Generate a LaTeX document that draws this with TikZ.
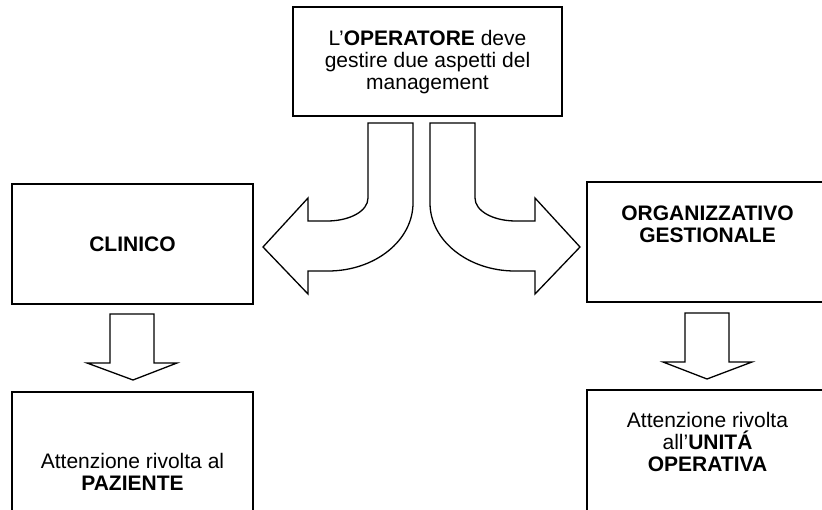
\documentclass[tikz,border=0pt]{standalone}
\usepackage{fontspec}
\setmainfont{Liberation Sans}
\begin{document}
\begin{tikzpicture}[x=1pt, y=-1pt,
  box/.style={draw, line width=1.7pt, inner sep=0pt},
  txt/.style={align=center, inner sep=0pt, font=\fontsize{21}{22}\selectfont},
  blockarrow/.style={draw, fill=white, line width=1.3pt, line join=miter}]
\useasboundingbox (0,0) rectangle (822,510);
\clip (0,0) rectangle (822,510);

% boxes
\node[box, minimum width=269pt, minimum height=109pt] (oper) at (427.5,61.5) {};
\node[txt] (opertxt) at (427.5,62.5)
  {L’\textbf{OPERATORE} deve\\gestire due aspetti del\\management};
\node[box, txt, minimum width=241pt, minimum height=120pt] (clin) at (132.5,244)
  {\textbf{CLINICO}};
\node[box, minimum width=241pt, minimum height=120pt] (org) at (707.5,242) {};
\node[txt] (orgtxt) at (707.5,224) {\textbf{ORGANIZZATIVO}\\\textbf{GESTIONALE}};
\node[box, minimum width=241pt, minimum height=138pt] (paz) at (132.5,461) {};
\node[txt] (paztxt) at (132.5,472) {Attenzione rivolta al\\\textbf{PAZIENTE}};
\node[box, minimum width=241pt, minimum height=140pt] (uo) at (707.5,460) {};
\node[txt] (uotxt) at (707.5,442) {Attenzione rivolta\\all’\textbf{UNITÁ}\\\textbf{OPERATIVA}};

% curved block arrow towards the left
\draw[blockarrow] (368,123) -- (413,123) -- (413,203)
  .. controls (413,240.5) and (375,271) .. (328,271) -- (308,271) -- (308,294)
  -- (263,247) -- (308,198) -- (308,221) -- (327,221)
  .. controls (350,221) and (368,211) .. (368,198) -- cycle;

% curved block arrow towards the right
\draw[blockarrow] (475,123) -- (430,123) -- (430,203)
  .. controls (430,240.5) and (468,271) .. (515,271) -- (535,271) -- (535,294)
  -- (580,247) -- (535,198) -- (535,221) -- (516,221)
  .. controls (493,221) and (475,211) .. (475,198) -- cycle;

% straight block arrows pointing down
\draw[blockarrow] (110,314) -- (154,314) -- (154,363) -- (177,363) -- (133,380)
  -- (87,363) -- (110,363) -- cycle;
\draw[blockarrow] (685,313) -- (729,313) -- (729,362) -- (752,362) -- (707,379)
  -- (663,362) -- (685,362) -- cycle;
\end{tikzpicture}
\end{document}
